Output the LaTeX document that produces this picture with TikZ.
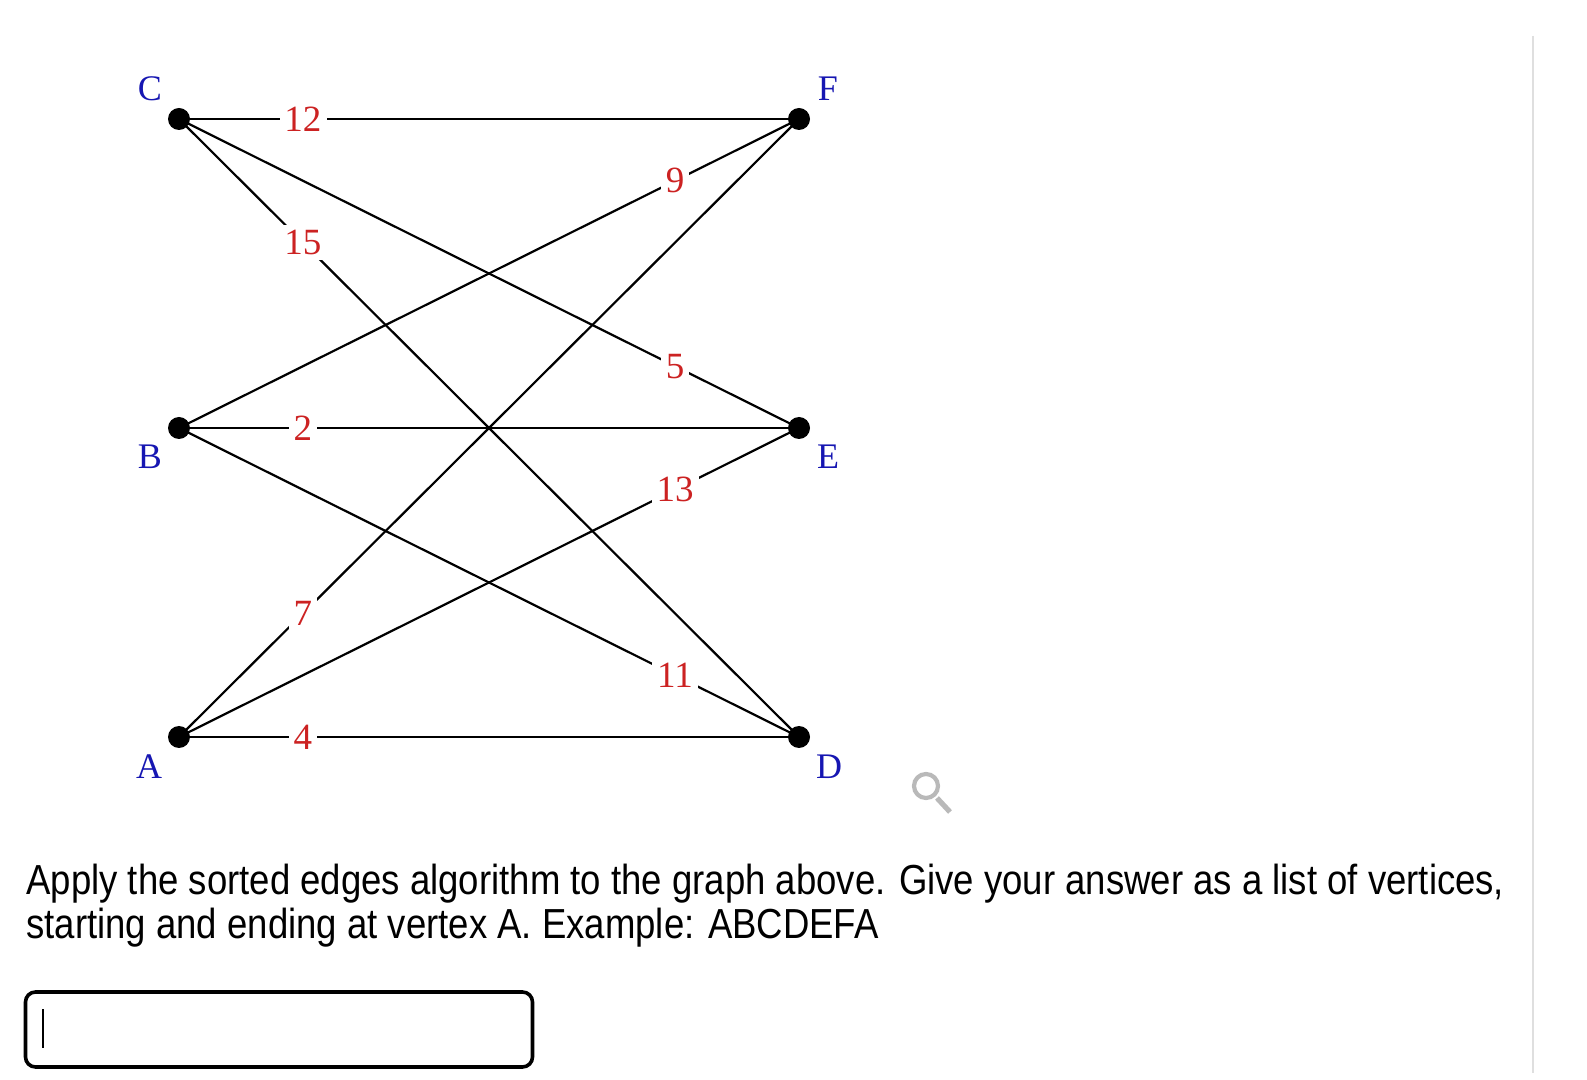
\documentclass[tikz,border=0pt]{standalone}
\usepackage{fontspec}
\usepackage{tikz}
\usetikzlibrary{
    positioning,
    calc
}
\newfontfamily\graphfont{Liberation Serif}
\newfontfamily\uifont[FakeStretch=0.87]{Liberation Sans}
\definecolor{wtRed}{RGB}{204,34,34}
\definecolor{vxBlue}{RGB}{22,22,178}
\definecolor{iconGray}{RGB}{185,185,185}
\tikzset{
  vertex/.style  = {circle, fill=black, inner sep=0pt, minimum size=11pt},
  vname/.style   = {font=\graphfont\fontsize{18}{20}\selectfont, text=vxBlue},
  wt/.style      = {fill=white, inner sep=2.5pt, text=wtRed,
                    font=\graphfont\fontsize{18.5}{20}\selectfont},
  edge/.style    = {line width=1.1pt, black},
  question/.style = {anchor=base west, inner sep=0pt,
                    font=\uifont\fontsize{21}{25}\selectfont},
  inputbox/.style = {draw, line width=1.8pt, rounded corners=5pt,
                    minimum width=253.5pt, minimum height=37.5pt, inner sep=0pt}
}

\begin{document}
\begin{tikzpicture}[x=0.5pt, y=-0.5pt]
\useasboundingbox (0,0) rectangle (1587,1080);

\node[vertex] (C) at (179,119) {};
\node[vertex] (F) at (799,119) {};
\node[vertex] (B) at (179,428) {};
\node[vertex] (E) at (799,428) {};
\node[vertex] (A) at (179,737) {};
\node[vertex] (D) at (799,737) {};

\node[vname] (lC) at ($(C)+(-29,-30)$) {C};
\node[vname] (lF) at ($(F)+(29,-30)$)  {F};
\node[vname] (lB) at ($(B)+(-29,29)$)  {B};
\node[vname] (lE) at ($(E)+(29,29)$)   {E};
\node[vname] (lA) at ($(A)+(-30,30)$)  {A};
\node[vname] (lD) at ($(D)+(30,30)$)   {D};

\draw[edge] (C.center) -- node[wt, pos=0.2] {12} (F.center);
\draw[edge] (C.center) -- node[wt, pos=0.2] {15} (D.center);
\draw[edge] (C.center) -- node[wt, pos=0.8] {5}  (E.center);
\draw[edge] (B.center) -- node[wt, pos=0.8] {9}  (F.center);
\draw[edge] (B.center) -- node[wt, pos=0.2] {2}  (E.center);
\draw[edge] (B.center) -- node[wt, pos=0.8] {11} (D.center);
\draw[edge] (A.center) -- node[wt, pos=0.2] {7}  (F.center);
\draw[edge] (A.center) -- node[wt, pos=0.8] {13} (E.center);
\draw[edge] (A.center) -- node[wt, pos=0.2] {4}  (D.center);

% zoom icon
\draw[iconGray, line width=2.1pt] (926,786) circle[radius=6pt];
\draw[iconGray, line width=2.6pt] (937,798) -- (950,812);

\node[question] (q1) at (26,894)
  {Apply the sorted edges algorithm to the graph above. Give your answer as a list of vertices,};
\node[question] (q2) at (26,938)
  {starting and ending at vertex A. Example: ABCDEFA};

\node[inputbox] (answer) at (279,1029.5) {};
\draw[line width=1pt] (43,1009) -- (43,1048);

\draw[gray!25, line width=0.6pt] (1533,36) -- (1533,1073);

\end{tikzpicture}
\end{document}
